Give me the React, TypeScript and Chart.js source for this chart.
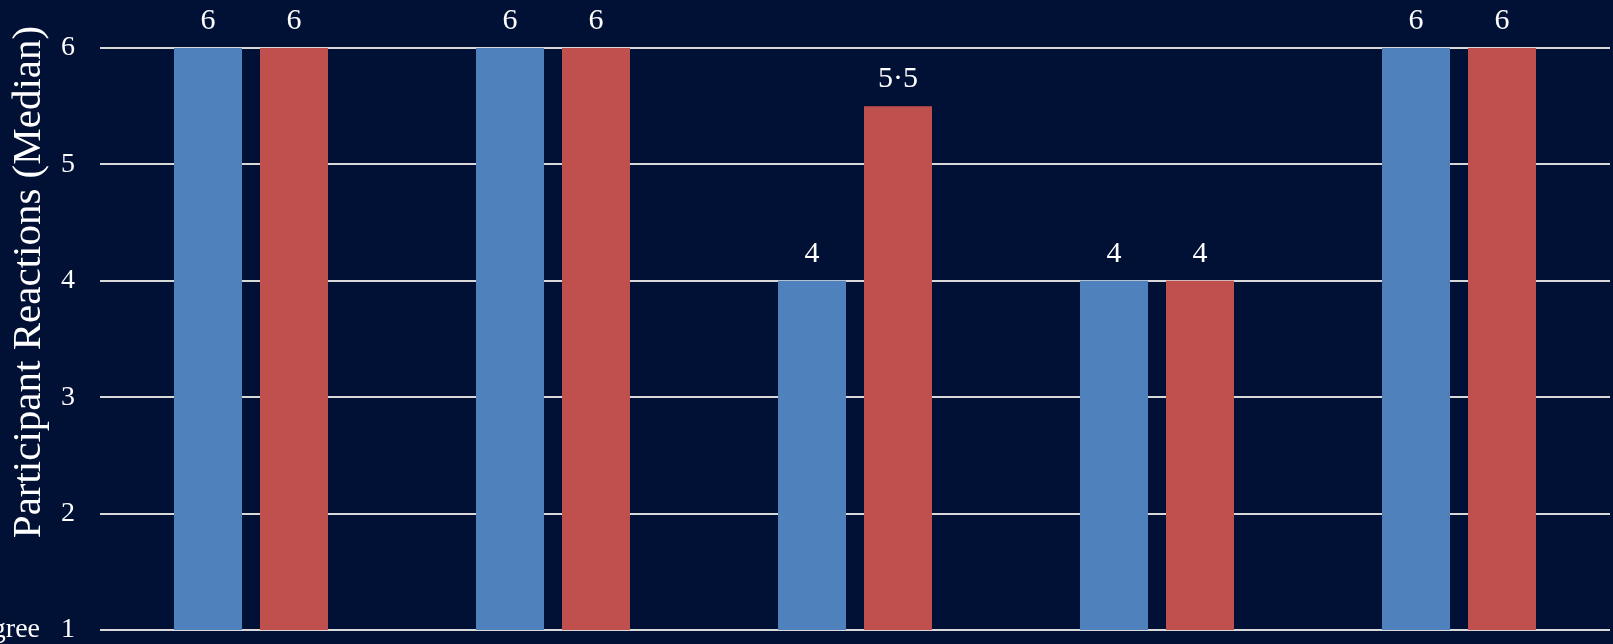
import React, { useEffect, useRef } from "react";
import { Chart, registerables } from "chart.js";

Chart.register(...registerables);

// Survey items (axis labels are not shown on this view)
const categories = ["Item 1", "Item 2", "Item 3", "Item 4", "Item 5"];
const seriesNames = ["Group A", "Group B"];
const seriesA = [6, 6, 4, 4, 6];
const seriesB = [6, 6, 5.5, 4, 6];
const yTicks = [1, 2, 3, 4, 5, 6];
const lowAnchor = "Strongly Disagree";
const axisTitle = "Participant Reactions (Median)";

const W = 1613;
const H = 644;
const BG = "#011035";
const BLUE = "#4F81BD";
const RED = "#C0504D";
const FONT = "'Liberation Serif', 'Times New Roman', serif";

const fmt = (v: number) => String(v).replace(".", "·");

const backgroundPlugin = {
  id: "bgFill",
  beforeDraw(chart: any) {
    const { ctx, width, height } = chart;
    ctx.save();
    ctx.fillStyle = BG;
    ctx.fillRect(0, 0, width, height);
    ctx.restore();
  },
};

const valueLabels = {
  id: "valueLabels",
  afterDatasetsDraw(chart: any) {
    const { ctx } = chart;
    ctx.save();
    ctx.fillStyle = "#ffffff";
    ctx.font = `30px ${FONT}`;
    ctx.textAlign = "center";
    ctx.textBaseline = "alphabetic";
    chart.data.datasets.forEach((ds: any, i: number) => {
      const meta = chart.getDatasetMeta(i);
      meta.data.forEach((el: any, j: number) => {
        ctx.fillText(fmt(ds.data[j]), el.x, el.y - 19);
      });
    });
    ctx.restore();
  },
};

const sideTitle = {
  id: "sideTitle",
  afterDraw(chart: any) {
    const { ctx } = chart;
    ctx.save();
    ctx.fillStyle = "#ffffff";
    ctx.font = `41px ${FONT}`;
    ctx.textAlign = "center";
    ctx.textBaseline = "middle";
    ctx.translate(29, 282);
    ctx.rotate(-Math.PI / 2);
    ctx.fillText(axisTitle, 0, 0);
    ctx.restore();
  },
};

export default function App() {
  const ref = useRef<HTMLCanvasElement | null>(null);

  useEffect(() => {
    if (!ref.current) return;
    const chart = new Chart(ref.current, {
      type: "bar",
      data: {
        labels: categories,
        datasets: [
          {
            label: seriesNames[0],
            data: seriesA,
            backgroundColor: BLUE,
            categoryPercentage: 0.5695,
            barPercentage: 0.7907,
          },
          {
            label: seriesNames[1],
            data: seriesB,
            backgroundColor: RED,
            categoryPercentage: 0.5695,
            barPercentage: 0.7907,
          },
        ],
      },
      options: {
        animation: false,
        responsive: false,
        layout: { padding: { top: 48, bottom: 14, left: 0, right: 3 } },
        plugins: {
          legend: { display: false },
          tooltip: { enabled: false },
        },
        scales: {
          x: {
            display: false,
          },
          y: {
            min: yTicks[0],
            max: yTicks[yTicks.length - 1],
            afterFit(scale: any) {
              // fixed axis gutter; vertical room is set by layout padding
              scale.width = 100;
              scale.paddingTop = 0;
              scale.paddingBottom = 0;
            },
            afterBuildTicks(scale: any) {
              scale.ticks = yTicks.map((v) => ({ value: v }));
            },
            border: { display: false },
            grid: {
              color: "#D9D9D9",
              lineWidth: 2,
              drawTicks: false,
            },
            ticks: {
              padding: 25,
              color: "#ffffff",
              font: { family: FONT, size: 28 },
              callback: (v: any) => (v === yTicks[0] ? `${lowAnchor}   ${v}` : `${v}`),
            },
          },
        },
      },
      plugins: [backgroundPlugin, valueLabels, sideTitle],
    });
    return () => chart.destroy();
  }, []);

  return (
    <div
      style={{
        position: "fixed",
        top: 0,
        left: 0,
        width: W,
        height: H,
        background: BG,
      }}
    >
      <canvas ref={ref} width={W} height={H} style={{ display: "block" }} />
    </div>
  );
}
